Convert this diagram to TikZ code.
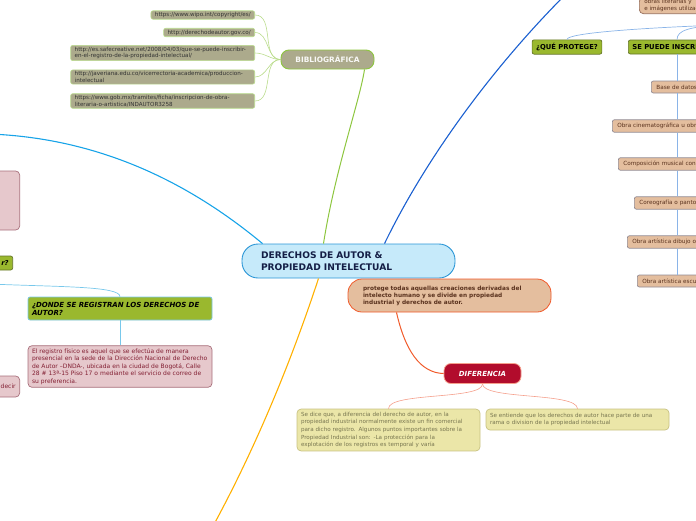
\documentclass[tikz,border=0pt]{standalone}
\usepackage{fontspec}
\setmainfont{DejaVu Sans}
\usetikzlibrary{positioning,calc}
\definecolor{rootfill}{RGB}{198,234,250}
\definecolor{rootline}{RGB}{43,150,214}
\definecolor{navytext}{RGB}{20,30,70}
\definecolor{olivefill}{RGB}{172,170,140}
\definecolor{limeline}{RGB}{141,198,63}
\definecolor{palelime}{RGB}{186,220,140}
\definecolor{tanfill}{RGB}{228,190,158}
\definecolor{redorange}{RGB}{240,90,42}
\definecolor{wine}{RGB}{178,12,44}
\definecolor{salmon}{RGB}{245,160,140}
\definecolor{creamfill}{RGB}{235,230,168}
\definecolor{creamline}{RGB}{200,194,130}
\definecolor{creamtext}{RGB}{120,118,80}
\definecolor{grassfill}{RGB}{154,184,46}
\definecolor{grassline}{RGB}{100,116,40}
\definecolor{pinkfill}{RGB}{230,200,204}
\definecolor{pinkline}{RGB}{168,112,124}
\definecolor{pinktext}{RGB}{130,30,50}
\definecolor{brownline}{RGB}{150,110,90}
\definecolor{browntext}{RGB}{90,50,30}
\definecolor{skyline}{RGB}{138,180,232}
\definecolor{cyanline}{RGB}{120,200,235}
\definecolor{deepblue}{RGB}{26,95,208}
\definecolor{brightcyan}{RGB}{23,163,232}
\definecolor{amber}{RGB}{255,176,0}

\begin{document}
\begin{tikzpicture}[x=1pt,y=1pt]
\tikzstyle{rootnode}=[draw=rootline,fill=rootfill,line width=0.9pt,rounded corners=16pt,minimum height=34pt,text width=175pt,inner xsep=19pt,align=left,font=\fontsize{9.1}{11.5}\selectfont\bfseries,text=navytext]
\tikzstyle{biblionode}=[draw=limeline,fill=olivefill,line width=0.9pt,rounded corners=8pt,minimum width=93pt,minimum height=19pt,font=\fontsize{7.4}{8}\selectfont\bfseries,text=white!92!olivefill]
\tikzstyle{urlbox}=[draw=palelime,fill=olivefill,line width=0.6pt,rounded corners=2pt,inner xsep=4pt,inner ysep=1.5pt,align=left,font=\fontsize{5.6}{6.8}\selectfont,text=black!80]
\tikzstyle{descbox}=[draw=redorange,fill=tanfill,line width=0.8pt,rounded corners=14pt,minimum height=33pt,text width=173pt,inner xsep=15pt,align=left,font=\fontsize{5.8}{7}\selectfont\bfseries,text=browntext]
\tikzstyle{difnode}=[draw=salmon,fill=wine,line width=0.8pt,rounded corners=7pt,minimum width=77pt,minimum height=20pt,font=\fontsize{7}{8}\selectfont\bfseries\itshape,text=white]
\tikzstyle{creambox}=[draw=creamline,fill=creamfill,line width=0.7pt,rounded corners=4pt,text width=175pt,inner xsep=4pt,inner ysep=3pt,align=left,font=\fontsize{5.6}{7.6}\selectfont,text=creamtext]
\tikzstyle{grassnode}=[draw=grassline,fill=grassfill,line width=0.7pt,rounded corners=2pt,minimum height=14pt,inner xsep=4pt,font=\fontsize{6.8}{8}\selectfont\bfseries,text=black]
\tikzstyle{pinkbox}=[draw=pinkline,fill=pinkfill,line width=0.7pt,rounded corners=4pt,inner xsep=4pt,inner ysep=3pt,align=left,font=\fontsize{6}{7.4}\selectfont,text=pinktext]
\tikzstyle{kindbox}=[draw=brownline!60!skyline,fill=tanfill,line width=0.7pt,rounded corners=2pt,minimum height=12pt,text width=140pt,inner xsep=5pt,align=left,font=\fontsize{5.7}{6}\selectfont,text=browntext]

\useasboundingbox (0,0) rectangle (696,-520);
\clip (0,0) rectangle (696,-520);

% main branches
\node[rootnode] (root) at (348.5,-261) {DERECHOS DE AUTOR \&\\PROPIEDAD INTELECTUAL};
\node[biblionode] (biblio) at (327.5,-59.5) {BIBLIOGRÁFICA};
\node[descbox] (desc) at (449.5,-295.5) {protege todas aquellas creaciones derivadas del\\intelecto humano y se divide en propiedad\\industrial y derechos de autor.};
\node[difnode] (dif) at (482.5,-373.5) {DIFERENCIA};

% bibliography links
\node[urlbox,anchor=east] (u1) at (255,-15) {https://www.wipo.int/copyright/es/};
\node[urlbox,anchor=east] (u2) at (255,-32.5) {http://derechodeautor.gov.co/};
\node[urlbox,anchor=east,text width=176pt] (u3) at (255,-53) {http://es.safecreative.net/2008/04/03/que-se-puede-inscribir-\\en-el-registro-de-la-propiedad-intelectual/};
\node[urlbox,anchor=east,text width=176pt] (u4) at (255,-77) {http://javeriana.edu.co/vicerrectoria-academica/produccion-\\intelectual};
\node[urlbox,anchor=east,text width=176pt] (u5) at (255,-101) {https://www.gob.mx/tramites/ficha/inscripcion-de-obra-\\literaria-o-artistica/INDAUTOR3258};

% difference boxes
\node[creambox] (d1) at (388.5,-430) {Se dice que, a diferencia del derecho de autor, en la\\propiedad industrial normalmente existe un fin comercial\\para dicho registro. Algunos puntos importantes sobre la\\Propiedad Industrial son: -La protección para la\\explotación de los registros es temporal y varía};
\node[creambox,minimum height=21pt] (d2) at (577.5,-419.5) {Se entiende que los derechos de autor hace parte de una\\rama o division de la propiedad intelectual};

% right side
\node[grassnode] (que) at (567,-47) {¿QUÉ PROTEGE?};
\node[grassnode,anchor=west] (sepuede) at (628,-47) {SE PUEDE INSCRIBIR};
\node[draw=brownline,fill=tanfill,rounded corners=4pt,line width=0.7pt,anchor=south west,text width=110pt,inner xsep=5pt,inner ysep=2pt,align=left,font=\fontsize{5.6}{6.8}\selectfont,text=browntext] (obras) at (639,-14) {obras literarias y\\e imágenes utilizadas};
\coordinate (spine) at (677,0);
\coordinate (qhub) at (720,-25);
\node[kindbox,anchor=west] (k1) at (651,-87) {Base de datos};
\node[kindbox,anchor=west] (k2) at (612,-126) {Obra cinematográfica u obra audiovisual};
\node[kindbox,anchor=west] (k3) at (618,-164) {Composición musical con letra};
\node[kindbox,anchor=west] (k4) at (634,-203) {Coreografía o pantomima};
\node[kindbox,anchor=west] (k5) at (627,-242) {Obra artística dibujo o pintura};
\node[kindbox,anchor=west] (k6) at (637,-281) {Obra artística escultura};

% left side
\node[pinkbox,anchor=east,minimum height=59pt,text width=60pt,font=\fontsize{5.5}{7.2}\selectfont\bfseries] (p0) at (20,-200.5) {\mbox{}\\[30pt]chos\\s.};
\node[grassnode,anchor=east,font=\fontsize{6.8}{8}\selectfont\bfseries\itshape] (autor) at (13,-263) {r?};
\node[grassnode,draw=cyanline,text width=176pt,align=left,minimum height=23pt,font=\fontsize{7}{8}\selectfont\bfseries\itshape] (donde) at (120,-308.5) {¿DONDE SE REGISTRAN LOS DERECHOS DE\\AUTOR?};
\node[pinkbox,text width=176pt] (fisico) at (120,-366.5) {El registro físico es aquel que se efectúa de manera\\presencial en la sede de la Dirección Nacional de Derecho\\de Autor –DNDA-, ubicada en la ciudad de Bogotá, Calle\\28 \# 13ª-15 Piso 17 o mediante el servicio de correo de\\su preferencia.};
\node[pinkbox,anchor=east,minimum height=21pt,text width=40pt,align=right] (decir) at (20,-386.5) {decir};
\coordinate (leftfree) at (-10,-284);
\coordinate (cyanfree) at (-10,-134);
\coordinate (bluefree) at (566,6);
\coordinate (amberfree) at (212,-528);

% connectors
\draw[limeline,line width=1pt] ([xshift=-25pt]root.north) .. controls (335,-170) and (360,-100) .. ([xshift=37pt]biblio.south);
\foreach \u in {u1,u2,u3,u4,u5}
  \draw[palelime,line width=0.6pt] (biblio.west) to[out=180,in=0] (\u.east);
\draw[deepblue,line width=1.1pt] ([xshift=36pt]root.north) .. controls (430,-150) and (500,-60) .. (bluefree);
\draw[brightcyan,line width=1.1pt] ([xshift=-86pt]root.north) .. controls (180,-175) and (90,-138) .. (cyanfree);
\draw[amber,line width=1.1pt] ([xshift=-30pt]root.south) .. controls (295,-350) and (260,-440) .. (amberfree);
\draw[redorange,line width=1pt] ([xshift=-53pt]desc.south) .. controls (405,-350) and (420,-373) .. (dif.west);
\draw[salmon,line width=0.6pt] (dif.south) .. controls (483,-400) and (388,-392) .. (d1.north);
\draw[salmon,line width=0.6pt] (dif.south) .. controls (483,-400) and (577,-392) .. (d2.north);
\draw[skyline,line width=0.7pt] (que.north) .. controls (567,-33) and (640,-28) .. (qhub);
\draw[skyline,line width=0.7pt] (sepuede.north -| spine) .. controls (677,-30) and (690,-27) .. (qhub);
\draw[skyline,line width=0.7pt] (sepuede.south -| spine) -- (k1.north -| spine);
\draw[skyline,line width=0.7pt] (k1.south -| spine) -- (k2.north -| spine);
\draw[skyline,line width=0.7pt] (k2.south -| spine) -- (k3.north -| spine);
\draw[skyline,line width=0.7pt] (k3.south -| spine) -- (k4.north -| spine);
\draw[skyline,line width=0.7pt] (k4.south -| spine) -- (k5.north -| spine);
\draw[skyline,line width=0.7pt] (k5.south -| spine) -- (k6.north -| spine);
\draw[cyanline,line width=0.7pt] (leftfree) .. controls (60,-287) and (120,-286) .. (donde.north);
\draw[cyanline,line width=0.7pt] (donde.south) -- (fisico.north);
\end{tikzpicture}
\end{document}
